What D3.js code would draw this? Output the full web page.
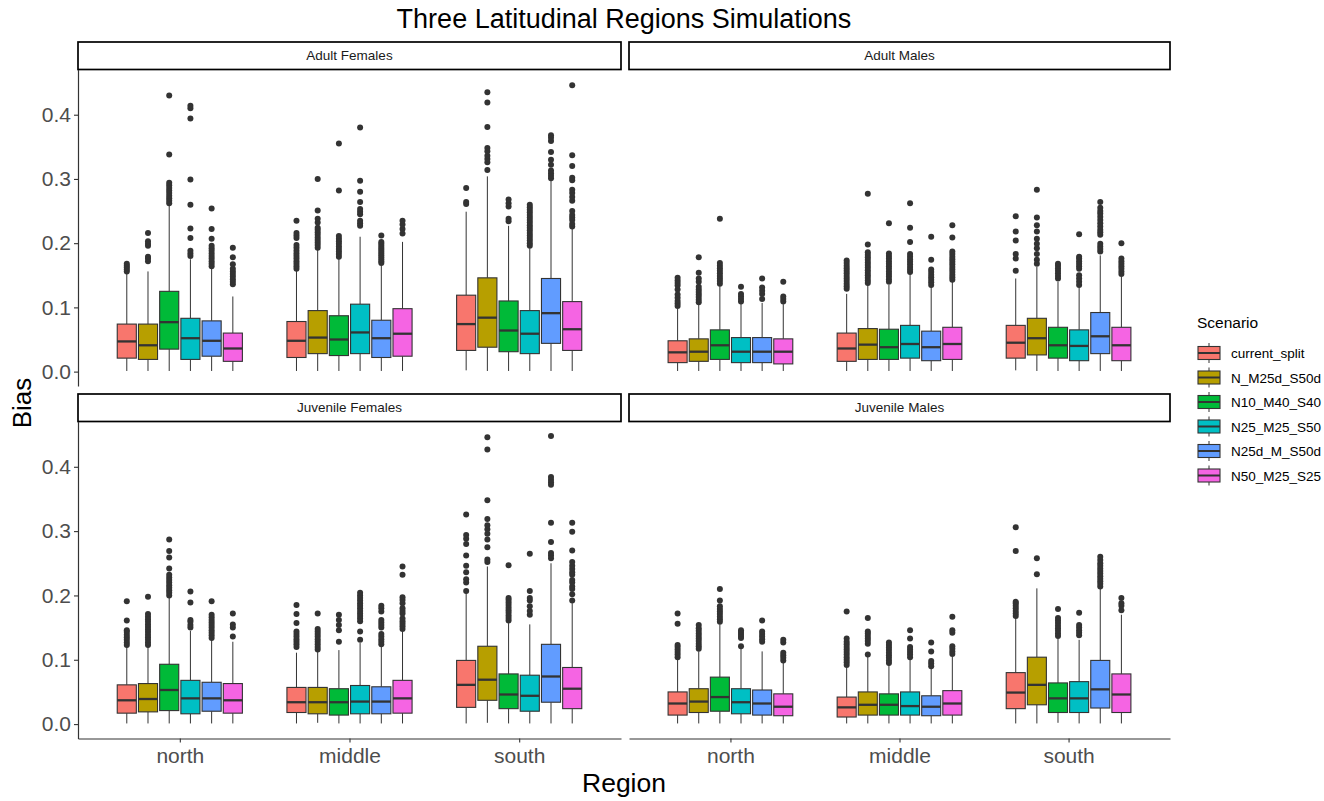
<!DOCTYPE html>
<html><head><meta charset="utf-8">
<script src="https://cdn.jsdelivr.net/npm/d3@7/dist/d3.min.js"></script>
<style>
body{margin:0;background:#fff}
svg{display:block}
text{font-family:"Liberation Sans",Arial,sans-serif}
</style>
</head><body>
<svg id="chart" width="1324" height="801"></svg>
<script>
const chartTitle = "Three Latitudinal Regions Simulations";
const xTitle = "Region";
const yTitle = "Bias";
const legendTitle = "Scenario";
const regions = ["north", "middle", "south"];
const scenarios = ["current_split", "N_M25d_S50d", "N10_M40_S40", "N25_M25_S50", "N25d_M_S50d", "N50_M25_S25"];
const colors = ["#F8766D", "#B79F00", "#00BA38", "#00BFC4", "#619CFF", "#F564E3"];
const panelNames = ["Adult Females", "Adult Males", "Juvenile Females", "Juvenile Males"];
const yTicks = [0, 0.1, 0.2, 0.3, 0.4];

// box stats: [lower whisker, Q1, median, Q3, upper whisker]; rows = regions, cols = scenarios
const statsAdultFemales = [
  [[0.001,0.021,0.047,0.074,0.153],[0.001,0.019,0.041,0.074,0.156],[0.001,0.035,0.077,0.125,0.259],[0.001,0.019,0.052,0.083,0.175],[0.001,0.024,0.048,0.079,0.160],[0.001,0.016,0.036,0.060,0.117]],
  [[0.001,0.022,0.048,0.078,0.157],[0.001,0.028,0.053,0.095,0.190],[0.001,0.025,0.050,0.087,0.176],[0.001,0.028,0.061,0.105,0.210],[0.001,0.022,0.052,0.080,0.166],[0.001,0.024,0.059,0.098,0.202]],
  [[0.002,0.033,0.074,0.119,0.249],[0.001,0.038,0.084,0.146,0.304],[0.001,0.031,0.064,0.110,0.227],[0.001,0.028,0.059,0.095,0.192],[0.001,0.044,0.091,0.145,0.297],[0.001,0.033,0.066,0.109,0.222]]
];
const outAdultFemales = [
  [[0.156,0.159,0.162,0.165,0.168],[0.172,0.176,0.179,0.196,0.199,0.203,0.216],[0.262,0.266,0.270,0.274,0.278,0.282,0.286,0.290,0.294,0.338,0.430],[0.180,0.184,0.188,0.208,0.223,0.260,0.299,0.394,0.410,0.414],[0.164,0.168,0.172,0.176,0.180,0.184,0.188,0.192,0.196,0.207,0.222,0.254],[0.136,0.140,0.144,0.148,0.152,0.156,0.160,0.167,0.178,0.193]],
  [[0.160,0.164,0.168,0.172,0.176,0.180,0.184,0.188,0.193,0.197,0.208,0.212,0.216,0.235],[0.193,0.197,0.201,0.205,0.209,0.213,0.217,0.221,0.224,0.232,0.238,0.251,0.300],[0.179,0.183,0.187,0.191,0.195,0.199,0.203,0.207,0.211,0.282,0.355],[0.227,0.231,0.235,0.245,0.249,0.253,0.264,0.280,0.297,0.380],[0.169,0.172,0.175,0.178,0.181,0.184,0.187,0.190,0.193,0.196,0.199,0.202,0.212],[0.215,0.222,0.229,0.235]],
  [[0.261,0.264,0.286],[0.314,0.326,0.331,0.336,0.343,0.348,0.381,0.419,0.435],[0.234,0.238,0.257,0.262,0.268],[0.196,0.200,0.204,0.208,0.212,0.216,0.220,0.224,0.228,0.232,0.236,0.240,0.244,0.248,0.252,0.256,0.260],[0.301,0.305,0.309,0.313,0.322,0.330,0.342,0.359,0.364,0.368],[0.226,0.230,0.236,0.240,0.244,0.250,0.266,0.272,0.278,0.283,0.298,0.302,0.320,0.337,0.446]]
];

const statsAdultMales = [
  [[0.001,0.014,0.030,0.048,0.098],[0.001,0.016,0.031,0.051,0.104],[0.001,0.019,0.041,0.065,0.133],[0.001,0.014,0.031,0.053,0.106],[0.001,0.014,0.031,0.053,0.107],[0.001,0.012,0.031,0.051,0.105]],
  [[0.001,0.016,0.036,0.060,0.121],[0.001,0.019,0.042,0.067,0.135],[0.001,0.019,0.038,0.066,0.135],[0.001,0.021,0.043,0.072,0.152],[0.001,0.017,0.038,0.063,0.132],[0.001,0.019,0.043,0.069,0.140]],
  [[0.002,0.021,0.045,0.072,0.145],[0.001,0.026,0.052,0.083,0.163],[0.001,0.021,0.041,0.069,0.140],[0.001,0.017,0.040,0.065,0.131],[0.001,0.028,0.055,0.092,0.181],[0.001,0.017,0.041,0.069,0.148]]
];
const outAdultMales = [
  [[0.102,0.106,0.110,0.115,0.120,0.128,0.134,0.138,0.142,0.146],[0.108,0.112,0.116,0.120,0.124,0.128,0.132,0.140,0.145,0.154,0.178],[0.137,0.141,0.145,0.149,0.153,0.157,0.161,0.165,0.169,0.238],[0.109,0.113,0.117,0.121,0.132],[0.113,0.121,0.126,0.131,0.145],[0.109,0.113,0.117,0.140]],
  [[0.129,0.133,0.137,0.141,0.145,0.149,0.153,0.157,0.161,0.165,0.169,0.173],[0.138,0.142,0.146,0.150,0.154,0.158,0.162,0.166,0.170,0.174,0.178,0.182,0.186,0.198,0.277],[0.140,0.144,0.148,0.152,0.156,0.160,0.164,0.168,0.172,0.176,0.180,0.184,0.231],[0.155,0.159,0.163,0.167,0.171,0.175,0.179,0.183,0.202,0.224,0.262],[0.135,0.139,0.143,0.147,0.151,0.155,0.159,0.174,0.210],[0.143,0.147,0.151,0.155,0.159,0.163,0.167,0.171,0.175,0.179,0.183,0.187,0.209,0.228]],
  [[0.157,0.176,0.183,0.204,0.218,0.242],[0.168,0.174,0.183,0.192,0.199,0.207,0.218,0.228,0.240,0.283],[0.145,0.149,0.153,0.157,0.161,0.165,0.168],[0.135,0.140,0.145,0.150,0.160,0.164,0.168,0.172,0.176,0.179,0.214],[0.187,0.191,0.195,0.199,0.213,0.217,0.221,0.226,0.231,0.236,0.241,0.246,0.250,0.255,0.264],[0.152,0.156,0.160,0.164,0.168,0.172,0.176,0.200]]
];

const statsJuvenileFemales = [
  [[0.001,0.017,0.037,0.061,0.120],[0.001,0.019,0.039,0.063,0.120],[0.001,0.021,0.053,0.093,0.196],[0.001,0.016,0.040,0.068,0.145],[0.001,0.020,0.040,0.065,0.131],[0.001,0.017,0.037,0.063,0.128]],
  [[0.001,0.018,0.034,0.057,0.111],[0.002,0.016,0.034,0.057,0.113],[0.001,0.014,0.034,0.055,0.115],[0.001,0.016,0.035,0.060,0.126],[0.001,0.016,0.035,0.058,0.120],[0.001,0.017,0.040,0.068,0.144]],
  [[0.001,0.026,0.061,0.099,0.206],[0.002,0.037,0.069,0.121,0.245],[0.001,0.024,0.046,0.078,0.157],[0.001,0.020,0.044,0.076,0.155],[0.001,0.034,0.074,0.124,0.250],[0.001,0.024,0.055,0.088,0.188]]
];
const outJuvenileFemales = [
  [[0.123,0.127,0.131,0.135,0.139,0.143,0.146,0.161,0.191],[0.123,0.127,0.131,0.135,0.139,0.143,0.147,0.151,0.155,0.159,0.163,0.167,0.171,0.198],[0.200,0.204,0.208,0.212,0.216,0.220,0.224,0.228,0.232,0.242,0.259,0.269,0.287],[0.150,0.154,0.159,0.162,0.189,0.206],[0.134,0.138,0.142,0.146,0.150,0.154,0.158,0.162,0.166,0.170,0.191],[0.136,0.150,0.155,0.172]],
  [[0.120,0.124,0.128,0.132,0.136,0.140,0.144,0.157,0.171,0.185],[0.116,0.120,0.124,0.128,0.132,0.136,0.140,0.144,0.148,0.172],[0.128,0.146,0.154,0.162,0.170],[0.131,0.144,0.160,0.164,0.168,0.172,0.176,0.180,0.184,0.188,0.192,0.196,0.200,0.204],[0.124,0.128,0.132,0.136,0.140,0.150,0.154,0.158,0.162,0.175,0.180,0.184],[0.148,0.152,0.156,0.160,0.164,0.172,0.176,0.180,0.188,0.193,0.197,0.232,0.245]],
  [[0.207,0.220,0.225,0.236,0.246,0.262,0.280,0.288,0.294,0.326],[0.252,0.256,0.275,0.287,0.296,0.303,0.309,0.319,0.348,0.427,0.446],[0.161,0.165,0.169,0.173,0.177,0.181,0.185,0.189,0.193,0.196,0.247],[0.170,0.176,0.183,0.192,0.196,0.207,0.265],[0.258,0.262,0.266,0.283,0.313,0.372,0.376,0.380,0.384,0.448],[0.192,0.202,0.210,0.214,0.220,0.224,0.232,0.236,0.241,0.246,0.252,0.270,0.299,0.313]]
];

const statsJuvenileMales = [
  [[0.001,0.014,0.032,0.050,0.100],[0.001,0.018,0.035,0.055,0.113],[0.001,0.020,0.042,0.073,0.155],[0.001,0.016,0.034,0.055,0.118],[0.001,0.014,0.032,0.053,0.113],[0.001,0.013,0.027,0.047,0.095]],
  [[0.001,0.011,0.026,0.042,0.088],[0.001,0.014,0.030,0.050,0.105],[0.001,0.014,0.030,0.047,0.092],[0.001,0.014,0.028,0.050,0.100],[0.001,0.013,0.027,0.044,0.087],[0.001,0.014,0.032,0.052,0.105]],
  [[0.001,0.024,0.049,0.080,0.165],[0.001,0.030,0.061,0.104,0.211],[0.002,0.018,0.040,0.064,0.133],[0.001,0.018,0.040,0.066,0.131],[0.001,0.025,0.054,0.099,0.210],[0.001,0.018,0.046,0.078,0.170]]
];
const outJuvenileMales = [
  [[0.104,0.108,0.112,0.116,0.120,0.123,0.156,0.172],[0.117,0.121,0.125,0.129,0.133,0.137,0.141,0.145,0.149,0.154],[0.159,0.163,0.167,0.171,0.175,0.179,0.183,0.192,0.210],[0.121,0.134,0.137,0.140,0.143,0.146],[0.128,0.132,0.136,0.140,0.144,0.161],[0.099,0.103,0.107,0.111,0.127,0.131]],
  [[0.092,0.096,0.100,0.104,0.108,0.112,0.116,0.120,0.124,0.128,0.133,0.175],[0.108,0.125,0.129,0.133,0.137,0.141,0.144,0.165],[0.095,0.099,0.103,0.107,0.111,0.115,0.119,0.123,0.127],[0.104,0.108,0.112,0.116,0.120,0.133,0.146],[0.090,0.094,0.098,0.113,0.127],[0.109,0.113,0.117,0.121,0.142,0.146,0.167]],
  [[0.168,0.172,0.176,0.180,0.184,0.188,0.190,0.269,0.306],[0.233,0.258],[0.137,0.141,0.145,0.149,0.153,0.157,0.161,0.165,0.179],[0.138,0.142,0.146,0.150,0.154,0.173],[0.214,0.218,0.222,0.226,0.230,0.234,0.238,0.242,0.246,0.250,0.255,0.260],[0.177,0.184,0.188,0.196]]
];

// ---------- layout ----------
const svg = d3.select("#chart");
const colX = [[78, 621], [629, 1170]];
const rowY = [{strip: [42, 69.5], panel: [69.5, 386]}, {strip: [394, 421.5], panel: [421.5, 738.5]}];
const panelStats = [statsAdultFemales, statsAdultMales, statsJuvenileFemales, statsJuvenileMales];
const panelOut = [outAdultFemales, outAdultMales, outJuvenileFemales, outJuvenileMales];

const allVals = [];
panelStats.forEach(p => p.forEach(r => r.forEach(b => allVals.push(...b))));
panelOut.forEach(p => p.forEach(r => r.forEach(o => allVals.push(...o))));
const vmin = Math.min(0, d3.min(allVals)), vmax = d3.max(allVals);
const pad = (vmax - vmin) * 0.05;

const tickColor = "#4D4D4D";
const lineColor = "#333333";

svg.append("text").attr("x", 624).attr("y", 28).attr("text-anchor", "middle")
  .attr("font-size", 27).attr("fill", "#000").text(chartTitle);

panelNames.forEach((name, pi) => {
  const col = pi % 2, row = Math.floor(pi / 2);
  const [x0, x1] = colX[col];
  const ry = rowY[row];
  const y = d3.scaleLinear().domain([vmin - pad, vmax + pad]).range([ry.panel[1], ry.panel[0]]);
  const x = d3.scalePoint().domain(regions).range([x0, x1]).padding(0.6);
  const step = x.step();
  const inner = d3.scaleBand().domain(scenarios).range([-0.375 * step, 0.375 * step]).paddingInner(0.1).paddingOuter(0.05);
  const bw = inner.bandwidth();

  // strip
  svg.append("rect").attr("x", x0).attr("y", ry.strip[0]).attr("width", x1 - x0).attr("height", ry.strip[1] - ry.strip[0])
    .attr("fill", "#fff").attr("stroke", "#000").attr("stroke-width", 1.7);
  svg.append("text").attr("x", (x0 + x1) / 2).attr("y", (ry.strip[0] + ry.strip[1]) / 2 + 4.5)
    .attr("text-anchor", "middle").attr("font-size", 13.5).attr("fill", "#1A1A1A").text(name);

  const g = svg.append("g");
  const stats = panelStats[pi], outs = panelOut[pi];
  regions.forEach((reg, ri) => {
    scenarios.forEach((sc, si) => {
      const s = stats[ri][si];
      const cx = x(reg) + inner(sc) + bw / 2;
      const bx = x(reg) + inner(sc);
      g.append("line").attr("x1", cx).attr("x2", cx).attr("y1", y(s[4])).attr("y2", y(s[3]))
        .attr("stroke", lineColor).attr("stroke-width", 1);
      g.append("line").attr("x1", cx).attr("x2", cx).attr("y1", y(s[1])).attr("y2", y(s[0]))
        .attr("stroke", lineColor).attr("stroke-width", 1);
      g.append("rect").attr("x", bx).attr("y", y(s[3])).attr("width", bw).attr("height", y(s[1]) - y(s[3]))
        .attr("fill", colors[si]).attr("stroke", lineColor).attr("stroke-width", 1.1);
      g.append("line").attr("x1", bx).attr("x2", bx + bw).attr("y1", y(s[2])).attr("y2", y(s[2]))
        .attr("stroke", lineColor).attr("stroke-width", 2.3);
      g.selectAll(null).data(outs[ri][si]).enter().append("circle")
        .attr("cx", cx).attr("cy", d => y(d)).attr("r", 3).attr("fill", lineColor);
    });
  });

  if (col === 0) {
    const ax = svg.append("g").attr("transform", `translate(${x0},0)`)
      .call(d3.axisLeft(y).tickValues(yTicks).tickFormat(d3.format(".1f")).tickSizeOuter(0).tickSizeInner(4).tickPadding(3));
    ax.select(".domain").attr("stroke", lineColor).attr("stroke-width", 1.2);
    ax.selectAll(".tick line").attr("stroke", lineColor).attr("stroke-width", 1.1);
    ax.selectAll(".tick text").attr("font-size", 21).attr("fill", tickColor).attr("font-family", "Liberation Sans, Arial, sans-serif");
  }
  if (row === 1) {
    const ax = svg.append("g").attr("transform", `translate(0,${ry.panel[1]})`)
      .call(d3.axisBottom(x).tickSizeOuter(0).tickSizeInner(4).tickPadding(6));
    ax.select(".domain").attr("stroke", lineColor).attr("stroke-width", 1.2);
    ax.selectAll(".tick line").attr("stroke", lineColor).attr("stroke-width", 1.1);
    ax.selectAll(".tick text").attr("font-size", 21).attr("fill", tickColor).attr("font-family", "Liberation Sans, Arial, sans-serif");
  }
});

svg.append("text").attr("x", 624).attr("y", 792).attr("text-anchor", "middle")
  .attr("font-size", 26.5).attr("fill", "#000").text(xTitle);
svg.append("text").attr("transform", "translate(31,403) rotate(-90)").attr("text-anchor", "middle")
  .attr("font-size", 26).attr("fill", "#000").text(yTitle);

const lg = svg.append("g");
lg.append("text").attr("x", 1197).attr("y", 328).attr("font-size", 15.5).attr("fill", "#000").text(legendTitle);
scenarios.forEach((sc, i) => {
  const cy = 353 + i * 24.5;
  lg.append("line").attr("x1", 1209).attr("x2", 1209).attr("y1", cy - 10).attr("y2", cy + 10)
    .attr("stroke", lineColor).attr("stroke-width", 1);
  lg.append("rect").attr("x", 1198).attr("y", cy - 6.5).attr("width", 22).attr("height", 13)
    .attr("fill", colors[i]).attr("stroke", lineColor).attr("stroke-width", 1.1);
  lg.append("line").attr("x1", 1198).attr("x2", 1220).attr("y1", cy).attr("y2", cy)
    .attr("stroke", lineColor).attr("stroke-width", 2);
  lg.append("text").attr("x", 1231).attr("y", cy + 5).attr("font-size", 13.5).attr("fill", "#000").text(sc);
});
</script>
</body></html>
